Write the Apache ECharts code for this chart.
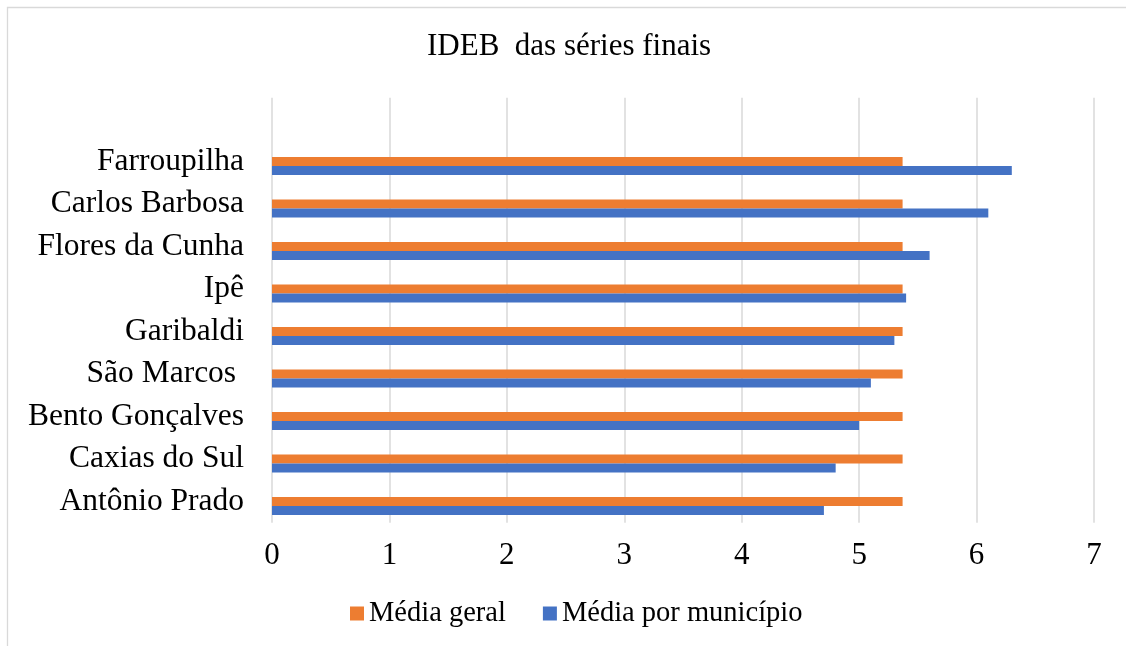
<!DOCTYPE html>
<html>
<head>
<meta charset="utf-8">
<script src="https://cdn.jsdelivr.net/npm/echarts@6/dist/echarts.min.js"></script>
<style>
  html, body { margin: 0; padding: 0; background: #fff; }
  #chart { width: 1126px; height: 646px; }
</style>
</head>
<body>
<div id="chart"></div>
<script>
// Municipalities, bottom to top
const categories = [
  'Antônio Prado', 'Caxias do Sul', 'Bento Gonçalves', 'São Marcos ',
  'Garibaldi', 'Ipê', 'Flores da Cunha', 'Carlos Barbosa', 'Farroupilha'
];
const mediaGeral = [5.37, 5.37, 5.37, 5.37, 5.37, 5.37, 5.37, 5.37, 5.37];
const mediaMunicipio = [4.7, 4.8, 5.0, 5.1, 5.3, 5.4, 5.6, 6.1, 6.3];
const xTicks = [0, 1, 2, 3, 4, 5, 6, 7];

const FONT = '"Liberation Serif", "Times New Roman", serif';
const ORANGE = '#ED7D31';
const BLUE = '#4472C4';

// one blank slot above the last municipality
const yCats = categories.concat(['']);

const chart = echarts.init(document.getElementById('chart'), null, { renderer: 'canvas' });

const gridBase = { left: 272, right: 32, top: 97.7, bottom: 123.3 };
const gridBars = { left: 272, right: 32, top: 102.2, bottom: 118.8 };

chart.setOption({
  animation: false,
  backgroundColor: '#ffffff',
  title: {
    text: 'IDEB  das séries finais',
    left: 422,
    top: 26,
    textStyle: { fontFamily: FONT, fontSize: 31, fontWeight: 'normal', color: '#000' }
  },
  legend: {
    data: ['Média geral', 'Média por município'],
    left: 345,
    top: 594,
    icon: 'rect',
    itemWidth: 14,
    itemHeight: 14,
    itemGap: 37,
    textStyle: { fontFamily: FONT, fontSize: 28.5, color: '#000' }
  },
  graphic: [{
    type: 'rect',
    shape: { x: 7.5, y: 7.5, width: 1140, height: 660 },
    style: { fill: 'none', stroke: '#d9d9d9', lineWidth: 1.3 },
    silent: true
  }],
  grid: [gridBase, gridBars],
  xAxis: [{
    gridIndex: 0,
    type: 'value',
    min: xTicks[0],
    max: xTicks[xTicks.length - 1],
    interval: 1,
    axisLine: { show: false },
    axisTick: { show: false },
    axisLabel: { fontFamily: FONT, fontSize: 31, color: '#000', margin: 18 },
    splitLine: { show: true, lineStyle: { color: '#d9d9d9', width: 1.5 } }
  }, {
    gridIndex: 1,
    type: 'value',
    min: xTicks[0],
    max: xTicks[xTicks.length - 1],
    interval: 1,
    show: false,
    splitLine: { show: false }
  }],
  yAxis: [{
    gridIndex: 0,
    type: 'category',
    data: yCats,
    axisLine: { show: false },
    axisTick: { show: false },
    axisLabel: { fontFamily: FONT, fontSize: 31.5, color: '#000', margin: 28 },
    splitLine: { show: false }
  }, {
    gridIndex: 1,
    type: 'category',
    data: yCats,
    show: false
  }],
  series: [{
    name: 'Média geral',
    type: 'bar',
    xAxisIndex: 1,
    yAxisIndex: 1,
    data: mediaGeral,
    barWidth: 9,
    barGap: '0%',
    itemStyle: { color: ORANGE }
  }, {
    name: 'Média por município',
    type: 'bar',
    xAxisIndex: 1,
    yAxisIndex: 1,
    data: mediaMunicipio,
    barWidth: 9,
    barGap: '0%',
    itemStyle: { color: BLUE }
  }]
});
</script>
</body>
</html>
